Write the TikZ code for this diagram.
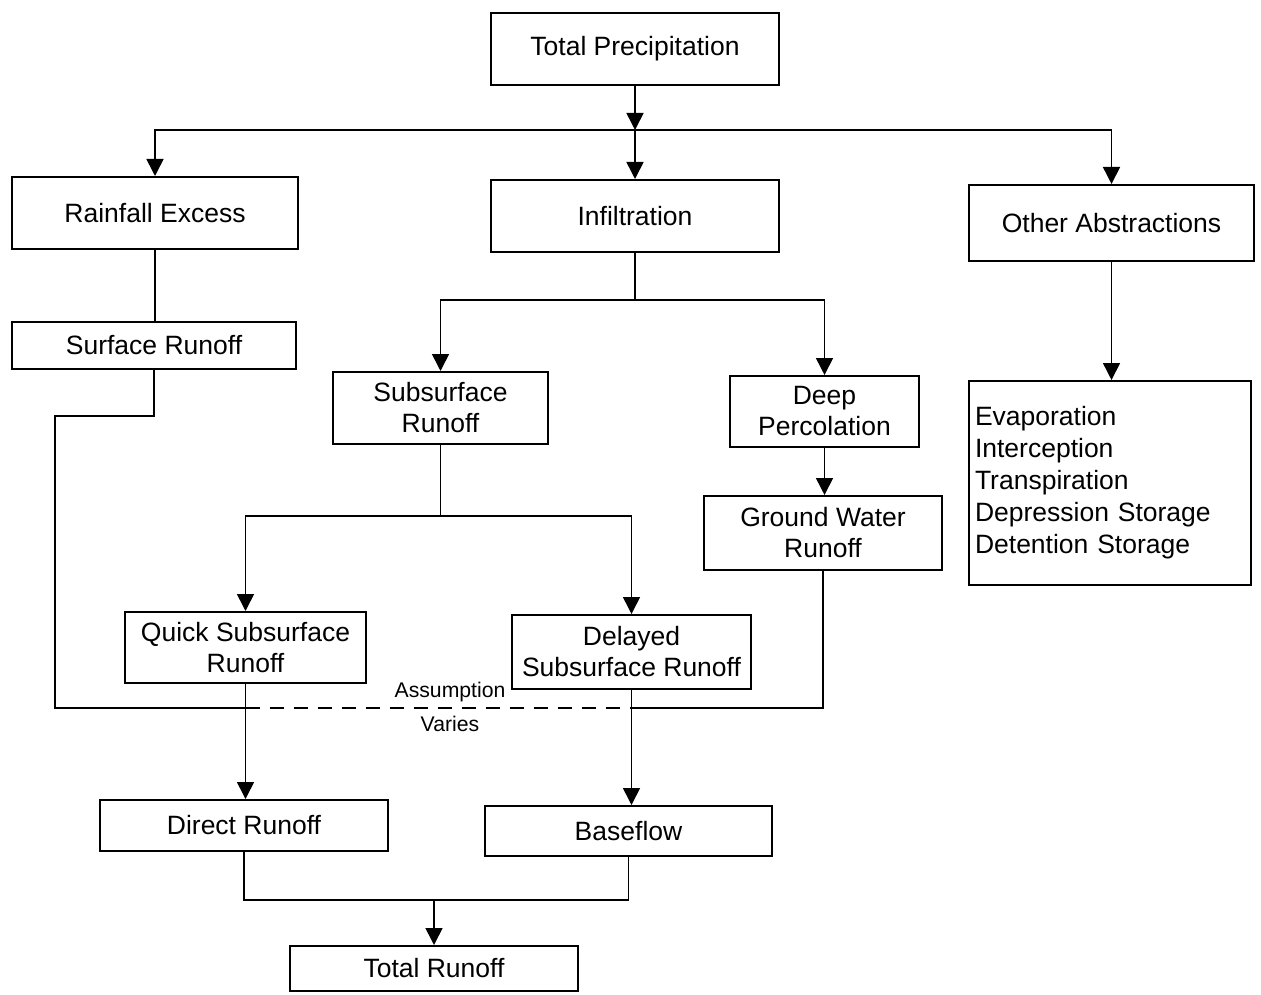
\documentclass[tikz,border=0pt]{standalone}
\usepackage{fontspec}
\setmainfont{Liberation Sans}
\usetikzlibrary{arrows.meta}
\newcommand\boxfont{\fontsize{13.25}{15.5}\selectfont}
\newcommand\listfont{\fontsize{13.25}{16}\selectfont}
\begin{document}
\begin{tikzpicture}[x=0.5pt,y=-0.5pt,
  box/.style={draw, line width=1pt, align=center, inner sep=0pt, font=\boxfont},
  link/.style={line width=0.8pt},
  arr/.style={link, -{Triangle[width=8.5pt,length=8.5pt]}},
  note/.style={inner sep=0pt, font=\fontsize{10.6}{12}\selectfont}]
\useasboundingbox (0,0) rectangle (1261,994);

% boxes
\node[box, minimum width=144pt, minimum height=36pt] (tp) at (635,49) {Total Precipitation};
\node[box, minimum width=143pt, minimum height=36pt] (rain) at (155,213) {Rainfall Excess};
\node[box, minimum width=144pt, minimum height=36pt] (infil) at (635,216) {Infiltration};
\node[box, minimum width=142.5pt, minimum height=38pt] (other) at (1111.5,223) {Other Abstractions};
\node[box, minimum width=142pt, minimum height=23.5pt] (surf) at (154,345.5) {Surface Runoff};
\node[box, minimum width=107.5pt, minimum height=36pt] (sub) at (440.5,408) {Subsurface\\Runoff};
\node[box, minimum width=94.5pt, minimum height=35.5pt] (deep) at (824.5,411.5) {Deep\\Percolation};
\node[box, minimum width=119pt, minimum height=37pt] (gw) at (823,533) {Ground Water\\Runoff};
\node[box, minimum width=141pt, minimum height=102pt, align=left, inner xsep=3pt,
      text width=135pt, font=\listfont] (evap) at (1110,483)
  {Evaporation\\Interception\\Transpiration\\Depression Storage\\Detention Storage};
\node[box, minimum width=120.5pt, minimum height=35.5pt] (quick) at (245.5,647.5) {Quick Subsurface\\Runoff};
\node[box, minimum width=119.5pt, minimum height=37pt] (delayed) at (631.5,652) {Delayed\\Subsurface Runoff};
\node[box, minimum width=144pt, minimum height=25.5pt] (direct) at (244,825.5) {Direct Runoff};
\node[box, minimum width=143.5pt, minimum height=25pt] (base) at (628.5,831) {Baseflow};
\node[box, minimum width=144pt, minimum height=22.5pt] (total) at (434,968.5) {Total Runoff};

% junction points
\coordinate (bus) at (635,130);
\coordinate (ib) at (635,300);
\coordinate (sb) at (440.5,516);
\coordinate (s1) at (55,416);
\coordinate (s2) at (55,708);
\coordinate (d1) at (245.5,708);
\coordinate (d2) at (631.5,708);
\coordinate (jb) at (434,900);

% precipitation split
\draw[arr] (tp.south) -- (bus);
\draw[arr] (bus) -| (rain.north);
\draw[arr] (bus) -- (infil.north);
\draw[arr] (bus) -| (other.north);

% surface branch
\draw[link] (rain.south) -- (rain.south |- surf.north);
\draw[link] (surf.south) |- (s1) -- (s2) -- (d1);
\draw[link, dash pattern=on 7pt off 5pt] (d1) -- (d2);
\draw[link] (d2) -| (gw.south);
\node[note] (asm) at (450,692) {Assumption};
\node[note] (var) at (450,724) {Varies};

% infiltration branch
\draw[link] (infil.south) -- (ib);
\draw[arr] (ib) -| (sub.north);
\draw[arr] (ib) -| (deep.north);
\draw[arr] (deep.south) -- (deep.south |- gw.north);
\draw[link] (sub.south) -- (sb);
\draw[arr] (sb) -| (quick.north);
\draw[arr] (sb) -| (delayed.north);

% other abstractions
\draw[arr] (other.south) -- (other.south |- evap.north);

% runoff components
\draw[arr] (quick.south) -- (quick.south |- direct.north);
\draw[arr] (delayed.south) -- (delayed.south |- base.north);
\draw[link] (direct.south) |- (jb) -| (base.south);
\draw[arr] (jb) -- (total.north);
\end{tikzpicture}
\end{document}
